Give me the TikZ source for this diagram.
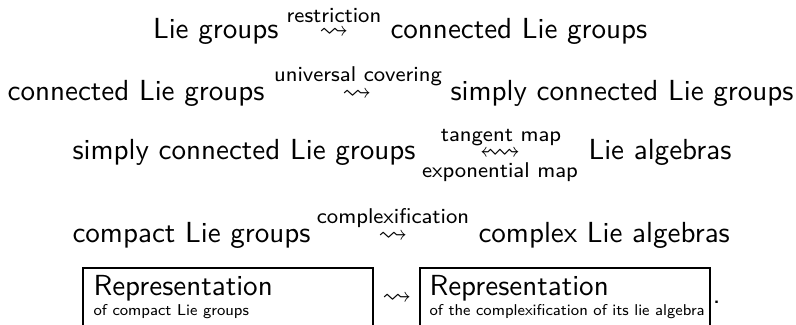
\documentclass[tikz,border=0pt]{standalone}
\usepackage{amsmath}
\usepackage{amssymb}
\usepackage{tikz}

\tikzset{
  term/.style={inner sep=0pt, font=\sffamily\fontsize{10.75}{13}\selectfont},
  maplabel/.style={inner sep=0pt, font=\sffamily\fontsize{7.9}{9}\selectfont},
  sublabel/.style={inner sep=0pt, font=\sffamily\fontsize{5.8}{7}\selectfont},
  squig/.style={inner sep=0pt, anchor=base, font=\fontsize{10.75}{13}\selectfont}
}

\begin{document}
\begin{tikzpicture}[x=0.37pt, y=-0.37pt]
			% Page frame
			\useasboundingbox (0,0) rectangle (796,325);
			
			% Restriction
			\node[squig] (resArr) at (334,38) {$\rightsquigarrow$};
			\node[maplabel, anchor=base] (resLbl) at (334,22) {restriction};
			\node[term, anchor=base east] (lieG) at (279,38) {Lie groups};
			\node[term, anchor=base west] (connG) at (390,38) {connected Lie groups};
			
			% Universal covering
			\node[squig] (covArr) at (357,100) {$\rightsquigarrow$};
			\node[maplabel, anchor=base] (covLbl) at (358,81) {universal covering};
			\node[term, anchor=base east] (connGb) at (265,100) {connected Lie groups};
			\node[term, anchor=base west] (simpG) at (450,100) {simply connected Lie groups};
			
			% Tangent map and exponential map
			\node[squig] (tanArr) at (500,159) {$\leftrightsquigarrow$};
			\node[maplabel, anchor=base] (tanLbl) at (501,141) {tangent map};
			\node[maplabel, anchor=base] (expLbl) at (500,177) {exponential map};
			\node[term, anchor=base west] (simpGb) at (72,159) {simply connected Lie groups};
			\node[term, anchor=base west] (lieAlg) at (588,159) {Lie algebras};
			
			% Complexification
			\node[squig] (cplxArr) at (393,242) {$\rightsquigarrow$};
			\node[maplabel, anchor=base] (cplxLbl) at (393,223) {complexification};
			\node[term, anchor=base west] (compG) at (72,242) {compact Lie groups};
			\node[term, anchor=base west] (cplxAlg) at (478,242) {complex Lie algebras};
			
			% Representation boxes
			\draw[thin] (83,327) -- (83,268) -- (373,268) -- (373,327);
			\draw[thin] (420,327) -- (420,268) -- (710,268) -- (710,327);
			\node[term, anchor=base west] (repG) at (93,295) {Representation};
			\node[sublabel, anchor=base west] (repGsub) at (93,315) {of compact Lie groups};
			\node[squig] (repArr) at (397,304) {$\rightsquigarrow$};
			\node[term, anchor=base west] (repA) at (429,295) {Representation};
			\node[sublabel, anchor=base west] (repAsub) at (429,315) {of the complexification of its lie algebra};
			\node[term, anchor=base west] (dot) at (712,303) {.};
			
		\end{tikzpicture}
\end{document}
